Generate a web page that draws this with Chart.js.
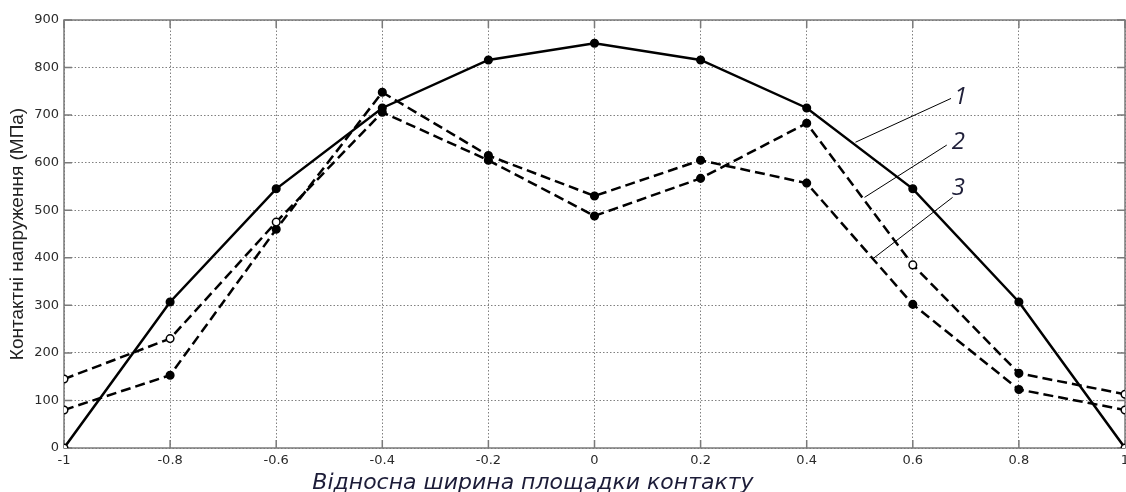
<!DOCTYPE html>
<html>
<head>
<meta charset="utf-8">
<script src="https://cdn.jsdelivr.net/npm/chart.js@4/dist/chart.umd.min.js"></script>
<style>
  html, body { margin: 0; padding: 0; background: #fff; }
  #wrap { width: 1126px; height: 492px; }
</style>
</head>
<body>
<div id="wrap"><canvas id="stressChart" width="1126" height="492"></canvas></div>
<script>
// відносна ширина площадки контакту
const widthPos = [-1, -0.8, -0.6, -0.4, -0.2, 0, 0.2, 0.4, 0.6, 0.8, 1];

// контактні напруження, МПа
const stress1 = [0, 307, 545, 715, 816, 851, 816, 715, 545, 307, 0];
const stress2 = [145, 230, 475, 706, 605, 488, 567, 683, 385, 157, 113];
const stress3 = [80, 153, 460, 748, 615, 530, 605, 557, 302, 123, 80];

const curveNames = ["1", "2", "3"];
const yTitle = "Контактні напруження (МПа)";
const xTitle = "Відносна ширина площадки контакту";

// точки з порожнім маркером
const hollow1 = [0, 10];
const hollow2 = [0, 1, 2, 8, 10];
const hollow3 = [0, 10];

function toPoints(vals) {
  return vals.map((v, i) => ({ x: widthPos[i], y: v }));
}

function markerFill(hollow) {
  return (ctx) => (hollow.includes(ctx.dataIndex) ? "#ffffff" : "#000000");
}

// рамка та внутрішні риски як у MATLAB
const boxPlugin = {
  id: "box",
  beforeDatasetsDraw(chart) {
    const { ctx, chartArea: a, scales } = chart;
    ctx.save();
    ctx.strokeStyle = "#7a7a7a";
    ctx.lineWidth = 1.5;
    ctx.strokeRect(a.left, a.top, a.right - a.left, a.bottom - a.top);
    ctx.beginPath();
    scales.x.ticks.forEach((t) => {
      const px = scales.x.getPixelForValue(t.value);
      ctx.moveTo(px, a.bottom); ctx.lineTo(px, a.bottom - 8);
      ctx.moveTo(px, a.top); ctx.lineTo(px, a.top + 8);
    });
    scales.y.ticks.forEach((t) => {
      const py = scales.y.getPixelForValue(t.value);
      ctx.moveTo(a.left, py); ctx.lineTo(a.left + 8, py);
      ctx.moveTo(a.right, py); ctx.lineTo(a.right - 8, py);
    });
    ctx.stroke();
    ctx.restore();
  },
};

// підписи кривих 1, 2, 3 з виносками та підпис осі x
const labelPlugin = {
  id: "curveLabels",
  afterDatasetsDraw(chart) {
    const { ctx, scales, chartArea: a } = chart;
    const sx = (v) => scales.x.getPixelForValue(v);
    const sy = (v) => scales.y.getPixelForValue(v);
    const leaders = [
      { from: [0.672, 735], to: [0.492, 643], text: [0.69, 737] },
      { from: [0.664, 637], to: [0.509, 527], text: [0.686, 643] },
      { from: [0.675, 527], to: [0.526, 399], text: [0.686, 547] },
    ];
    ctx.save();
    ctx.strokeStyle = "#000";
    ctx.lineWidth = 1;
    leaders.forEach((l, i) => {
      ctx.beginPath();
      ctx.moveTo(sx(l.from[0]), sy(l.from[1]));
      ctx.lineTo(sx(l.to[0]), sy(l.to[1]));
      ctx.stroke();
      ctx.fillStyle = "#20203a";
      ctx.font = "italic 24px 'Open Sans'";
      ctx.textAlign = "center";
      ctx.textBaseline = "middle";
      ctx.fillText(curveNames[i], sx(l.text[0]), sy(l.text[1]));
    });
    ctx.fillStyle = "#1c1c38";
    ctx.font = "oblique 22px 'DejaVu Sans'";
    ctx.textAlign = "center";
    ctx.textBaseline = "alphabetic";
    ctx.fillText(xTitle, a.left + (a.right - a.left) * 0.442, 489);
    ctx.restore();
  },
};

const ctx = document.getElementById("stressChart").getContext("2d");

const lineBase = {
  borderColor: "#000",
  borderWidth: 2.5,
  pointRadius: 3.8,
  pointBorderColor: "#000",
  pointBorderWidth: 1.5,
  tension: 0,
  fill: false,
};

new Chart(ctx, {
  type: "line",
  data: {
    datasets: [
      { ...lineBase, label: curveNames[0], data: toPoints(stress1), pointBackgroundColor: markerFill(hollow1) },
      { ...lineBase, label: curveNames[1], data: toPoints(stress2), borderDash: [10, 5], pointBackgroundColor: markerFill(hollow2) },
      { ...lineBase, label: curveNames[2], data: toPoints(stress3), borderDash: [10, 5], pointBackgroundColor: markerFill(hollow3) },
    ],
  },
  options: {
    responsive: false,
    animation: false,
    layout: { autoPadding: false, padding: { top: 20, right: 1, left: 0, bottom: 0 } },
    plugins: {
      legend: { display: false },
      tooltip: { enabled: false },
    },
    scales: {
      x: {
        type: "linear",
        min: -1,
        max: 1,
        afterFit: (s) => { s.height = 44; s.paddingLeft = 0; s.paddingRight = 0; },
        ticks: {
          stepSize: 0.2,
          padding: 5,
          color: "#2a2a2a",
          font: { family: "'DejaVu Sans'", size: 13 },
          maxRotation: 0,
          callback: (v) => (Math.abs(v) < 1e-9 ? "0" : String(Math.round(v * 10) / 10)),
        },
        grid: { color: "#808080", lineWidth: 1, drawTicks: false },
        border: { display: false, dash: [1.5, 2] },
      },
      y: {
        min: 0,
        max: 900,
        afterFit: (s) => { s.width = 64; s.paddingTop = 0; s.paddingBottom = 0; },
        ticks: {
          stepSize: 100,
          padding: 5,
          color: "#2a2a2a",
          font: { family: "'DejaVu Sans'", size: 13 },
        },
        grid: { color: "#808080", lineWidth: 1, drawTicks: false },
        border: { display: false, dash: [1.5, 2] },
        title: {
          display: true,
          text: yTitle,
          color: "#222",
          font: { family: "'Liberation Sans'", size: 19 },
          padding: { top: 6, bottom: 0 },
        },
      },
    },
  },
  plugins: [boxPlugin, labelPlugin],
});
</script>
</body>
</html>
